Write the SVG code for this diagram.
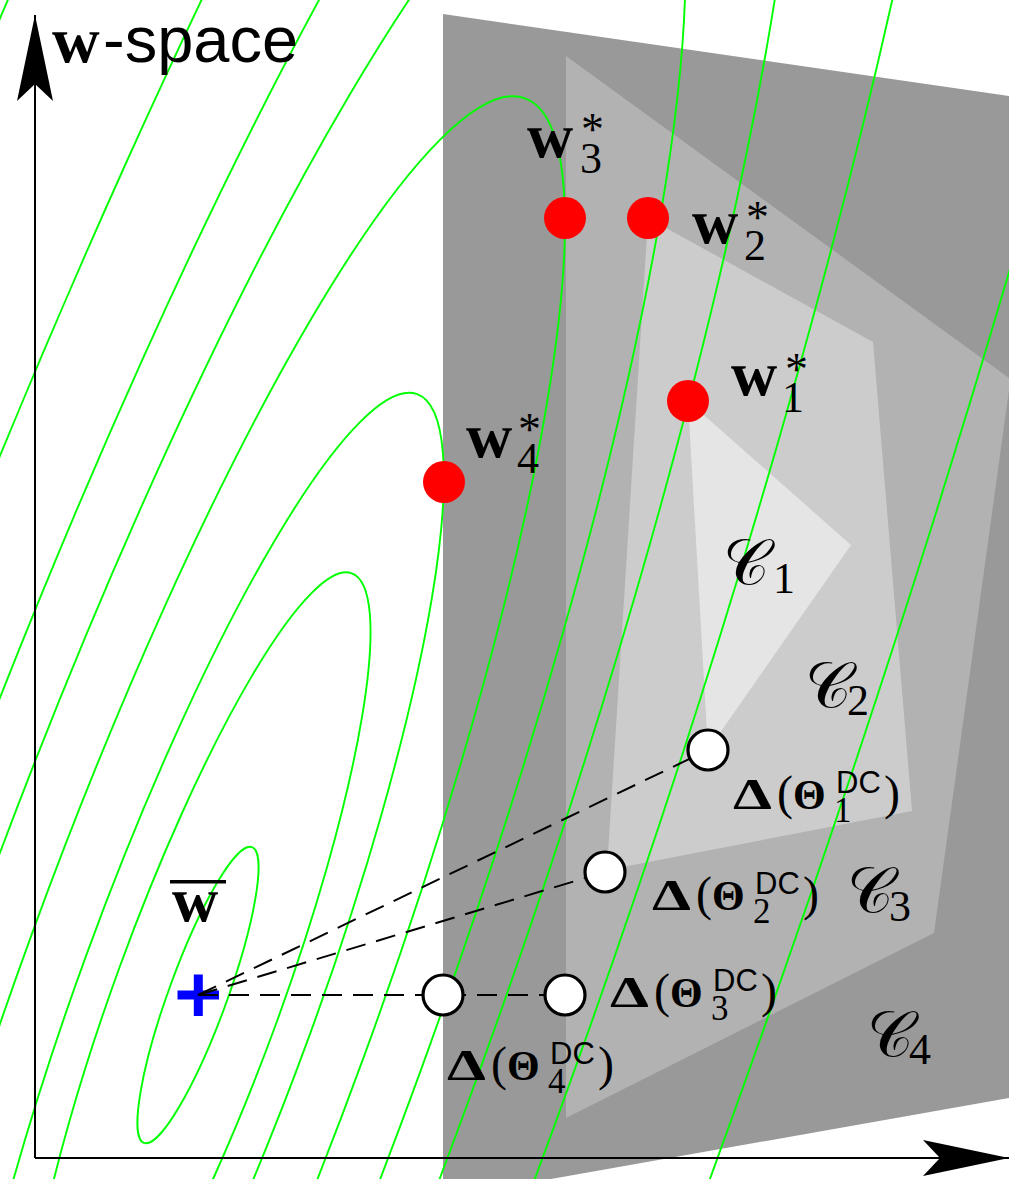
<svg xmlns="http://www.w3.org/2000/svg" width="1009" height="1179" viewBox="0 0 1009 1179">
<defs>
<style>
.c4{fill:#999999}.c3{fill:#b2b2b2}.c2{fill:#cccccc}.c1{fill:#e5e5e5}
.ct{fill:none;stroke:#00ff00;stroke-width:1.9}
.ax{stroke:#000;stroke-width:2;fill:none}
.dash{stroke:#000;stroke-width:2;stroke-dasharray:20 11;fill:none}
.opt{fill:#ff0000}
.dc{fill:#fff;stroke:#000;stroke-width:3.2}
text{fill:#000}
.bw{font-family:"Liberation Serif",serif;font-weight:bold;font-size:64px}
.ast{font-family:"Liberation Serif",serif;font-weight:normal;font-size:46px}
.sub{font-family:"Liberation Serif",serif;font-weight:normal;font-size:44px}
.cal{font-family:"Liberation Serif","DejaVu Serif","DejaVu Sans",serif;font-size:64px}
.dl{font-family:"Liberation Serif",serif;font-size:44px}
.b{font-size:44px;font-weight:bold}
.par{font-size:48px;font-weight:normal}
.th{font-size:42px;font-weight:bold}
.sdc{font-family:"Liberation Sans",sans-serif;font-size:31px;font-weight:normal}
.ds{font-size:35px;font-weight:normal}
.sans{font-family:"Liberation Sans",sans-serif;font-size:65px}
</style>
<marker id="arr" markerUnits="userSpaceOnUse" markerWidth="90" markerHeight="40" viewBox="-88 -19 90 38" refX="0" refY="0" orient="auto">
<path d="M0,0 L-86,-18 L-69,0 L-86,18 Z" fill="#000"/>
</marker>
</defs>
<rect width="1009" height="1179" fill="#fff"/>
<g id="regions">
<polygon id="region-C4" class="c4" points="443,14 1009,96 1009,1098 551,1179 443,1179"/>
<polygon id="region-C3" class="c3" points="566,56 1009,378 1009,390 934,933 566,1118"/>
<polygon id="region-C2" class="c2" points="648,218 873,342 912,811 607,870"/>
<polygon id="region-C1" class="c1" points="688,401 851,545 708,750"/>
</g>
<g id="contours" transform="rotate(-69.96 198 995)">
<ellipse class="ct" cx="198" cy="995" rx="157.5" ry="29.2"/>
<ellipse class="ct" cx="198" cy="995" rx="448.9" ry="83.2"/>
<ellipse class="ct" cx="198" cy="995" rx="639.5" ry="118.6"/>
<ellipse class="ct" cx="198" cy="995" rx="954.5" ry="177"/>
<ellipse class="ct" cx="198" cy="995" rx="1267.9" ry="235.1"/>
<ellipse class="ct" cx="198" cy="995" rx="1567.1" ry="290.5"/>
<ellipse class="ct" cx="198" cy="995" rx="2047.5" ry="379.6"/>
<ellipse class="ct" cx="198" cy="995" rx="2934.2" ry="544"/>
</g>
<g id="axes">
<line class="ax" x1="35" y1="1158" x2="35" y2="15" marker-end="url(#arr)"/>
<line class="ax" x1="35" y1="1158" x2="1009" y2="1158" marker-end="url(#arr)"/>
<text x="52" y="62"><tspan class="bw" style="font-size:66px">w</tspan><tspan class="sans" x="103">-space</tspan></text>
</g>
<g id="wbar">
<path d="M177.5,995 H219 M198.3,974.5 V1016" stroke="#0000ff" stroke-width="9" fill="none"/>
<rect x="170" y="880" width="56" height="3.5" fill="#000"/>
<text class="bw" x="172" y="921">w</text>
</g>
<g id="connectors">
<line class="dash" x1="198" y1="995" x2="708" y2="750"/>
<line class="dash" x1="198" y1="995" x2="605" y2="872"/>
<line class="dash" x1="198" y1="995" x2="565" y2="995"/>
</g>
<g id="w3">
<circle class="opt" cx="565" cy="218" r="21"/>
<text class="bw" x="527" y="157">w<tspan class="ast" x="581" y="145">*</tspan><tspan class="sub" x="580" y="173">3</tspan></text>
</g>
<g id="w2">
<circle class="opt" cx="648" cy="218" r="21"/>
<text class="bw" x="692" y="243">w<tspan class="ast" x="746" y="233">*</tspan><tspan class="sub" x="744" y="260">2</tspan></text>
</g>
<g id="w1">
<circle class="opt" cx="688" cy="401" r="21"/>
<text class="bw" x="731" y="395">w<tspan class="ast" x="785" y="385">*</tspan><tspan class="sub" x="782" y="412">1</tspan></text>
</g>
<g id="w4">
<circle class="opt" cx="444" cy="482" r="21"/>
<text class="bw" x="466" y="457">w<tspan class="ast" x="518" y="445">*</tspan><tspan class="sub" x="517" y="473">4</tspan></text>
</g>
<g id="C1"><text class="cal" x="723" y="584">𝒞<tspan class="sub" x="773" y="593">1</tspan></text></g>
<g id="C2"><text class="cal" x="805" y="707">𝒞<tspan class="sub" x="847" y="715">2</tspan></text></g>
<g id="C3"><text class="cal" x="847" y="912">𝒞<tspan class="sub" x="889" y="921">3</tspan></text></g>
<g id="C4"><text class="cal" x="867" y="1056">𝒞<tspan class="sub" x="909" y="1064">4</tspan></text></g>
<g id="d1">
<circle class="dc" cx="708" cy="750" r="20"/>
<text class="dl" y="809"><tspan class="b" x="733" textLength="39" lengthAdjust="spacingAndGlyphs">Δ</tspan><tspan class="par" x="777">(</tspan><tspan class="th" x="793">Θ</tspan><tspan class="sdc" x="836" y="793">DC</tspan><tspan class="ds" x="834" y="822">1</tspan><tspan class="par" x="884" y="809">)</tspan></text>
</g>
<g id="d2">
<circle class="dc" cx="605" cy="872" r="20"/>
<text class="dl" y="910"><tspan class="b" x="652" textLength="39" lengthAdjust="spacingAndGlyphs">Δ</tspan><tspan class="par" x="696">(</tspan><tspan class="th" x="712">Θ</tspan><tspan class="sdc" x="755" y="894">DC</tspan><tspan class="ds" x="753" y="923">2</tspan><tspan class="par" x="803" y="910">)</tspan></text>
</g>
<g id="d3">
<circle class="dc" cx="565" cy="995" r="20"/>
<text class="dl" y="1007"><tspan class="b" x="610" textLength="39" lengthAdjust="spacingAndGlyphs">Δ</tspan><tspan class="par" x="654">(</tspan><tspan class="th" x="670">Θ</tspan><tspan class="sdc" x="713" y="991">DC</tspan><tspan class="ds" x="711" y="1020">3</tspan><tspan class="par" x="761" y="1007">)</tspan></text>
</g>
<g id="d4">
<circle class="dc" cx="443" cy="995" r="20"/>
<text class="dl" y="1080"><tspan class="b" x="447" textLength="39" lengthAdjust="spacingAndGlyphs">Δ</tspan><tspan class="par" x="491">(</tspan><tspan class="th" x="507">Θ</tspan><tspan class="sdc" x="550" y="1064">DC</tspan><tspan class="ds" x="548" y="1093">4</tspan><tspan class="par" x="598" y="1080">)</tspan></text>
</g>
</svg>
